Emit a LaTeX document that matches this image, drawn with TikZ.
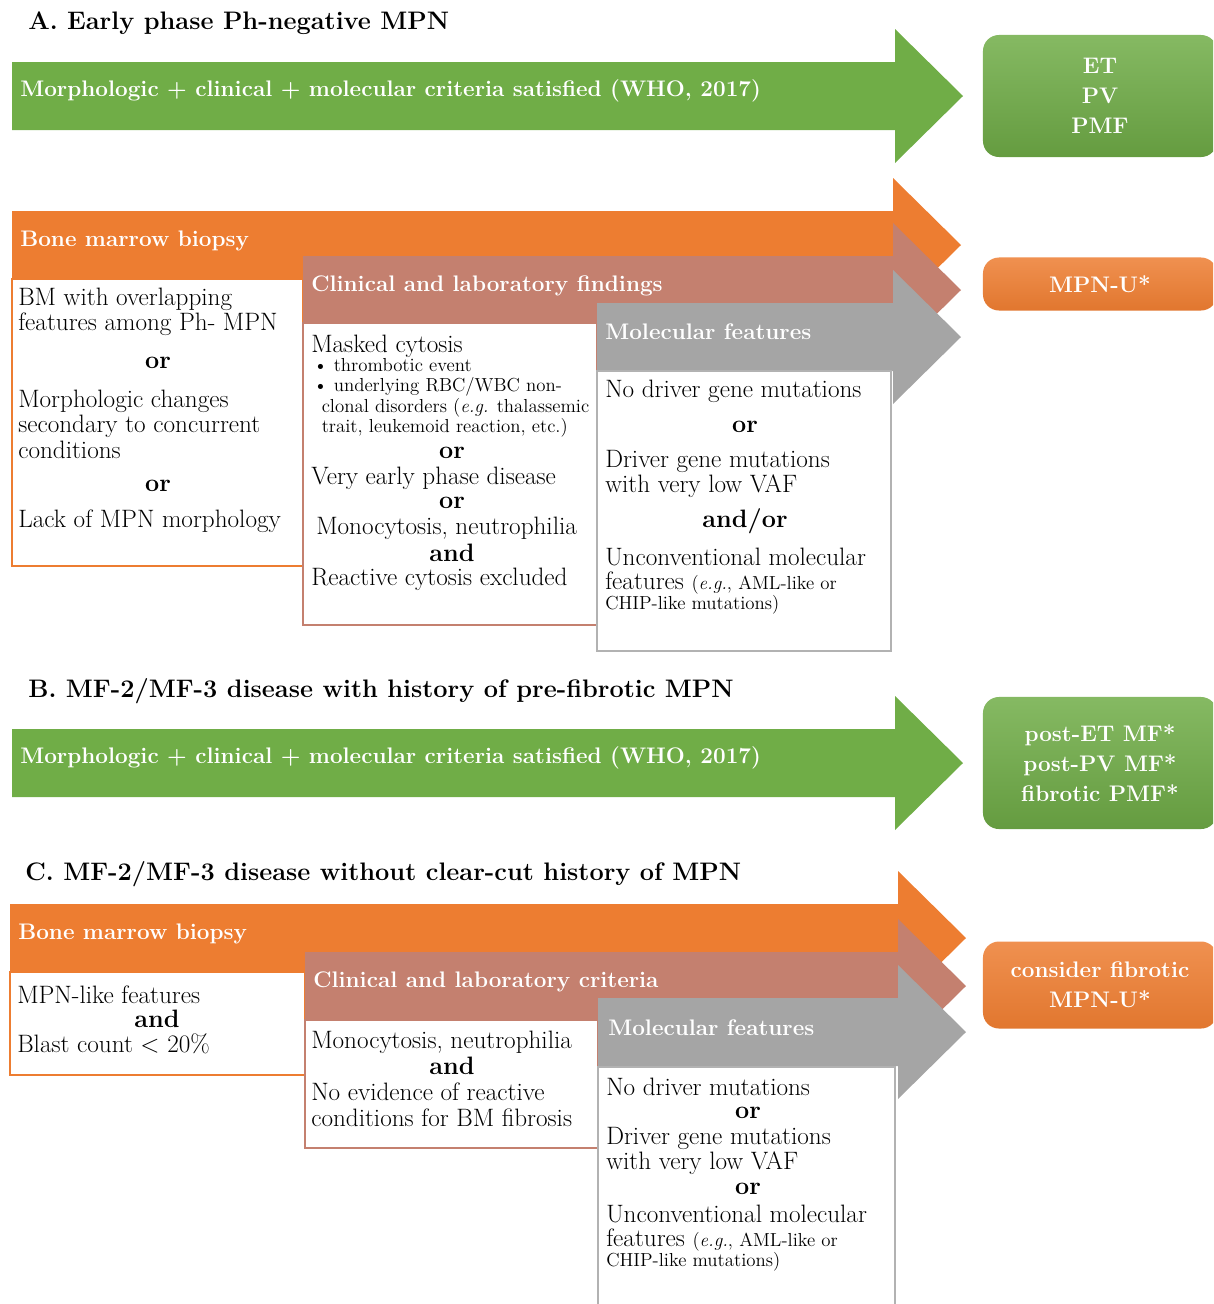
\documentclass[tikz,border=0pt]{standalone}
\usepackage{amsmath}
\usepackage{amssymb}

\definecolor{mpngreen}{HTML}{70AD47}
\definecolor{mpnorange}{HTML}{ED7D31}
\definecolor{mpnrose}{HTML}{C4806F}
\definecolor{mpngray}{HTML}{A5A5A5}

\newcommand{\blockarrow}[4]{%
  \fill[#1] (#2,#4-34) -- (#3,#4-34) -- (#3,#4-67) -- (#3+68,#4) -- (#3,#4+67) -- (#3,#4+34) -- (#2,#4+34) -- cycle;}
\newcommand{\smallsize}{\fontsize{13.4}{14.5}\selectfont}

\tikzset{
  ttl/.style={font=\fontsize{18}{20}\selectfont\bfseries, anchor=west, inner sep=0pt},
  hdr/.style={text=white, font=\fontsize{16}{18}\selectfont\bfseries, anchor=west, inner sep=0pt},
  txt/.style={font=\fontsize{17.9}{18.2}\selectfont, anchor=west, align=left, inner sep=0pt},
  conj/.style={font=\fontsize{17.9}{18.2}\selectfont\bfseries, inner sep=0pt},
  sml/.style={font=\smallsize, anchor=west, align=left, inner sep=0pt},
  resbox/.style={text=white, font=\fontsize{16}{21.3}\selectfont\bfseries, align=center,
    rounded corners=0.4cm, minimum width=5.85cm, inner sep=0pt},
  greenres/.style={resbox, top color=mpngreen!85!white, bottom color=mpngreen!90!black},
  orangeres/.style={resbox, top color=mpnorange!85!white, bottom color=mpnorange!95!black},
  obox/.style={fill=white, draw=mpnorange, line width=1.3pt},
  rbox/.style={fill=white, draw=mpnrose, line width=1.3pt},
  gbox/.style={fill=white, draw=mpngray!85!white, line width=1.3pt}
}

\begin{document}
\begin{tikzpicture}[x=0.025cm, y=-0.025cm]
\useasboundingbox (0,0) rectangle (1213,1304);
\clip (0,0) rectangle (1213,1304);

\node[ttl] (titleA) at (28,23) {A. Early phase Ph-negative MPN};
\blockarrow{mpngreen}{12}{895}{96}
\node[hdr] (critA) at (20,91) {Morphologic + clinical + molecular criteria satisfied (WHO, 2017)};
\node[greenres, minimum height=3.05cm] (resA) at (1100,96) {ET\\PV\\PMF};

\blockarrow{mpnorange}{12}{893}{245}
\node[hdr] (bmA) at (20,241) {Bone marrow biopsy};
\draw[obox] (12,279) rectangle (303,566);
\node[txt] (a1t1) at (18,312) {BM with overlapping\\features among Ph- MPN};
\node[conj] (a1or1) at (158,363) {or};
\node[txt] (a1t2) at (18,424) {Morphologic changes\\secondary to concurrent\\conditions};
\node[conj] (a1or2) at (158,486) {or};
\node[txt] (a1t3) at (18,521) {Lack of MPN morphology};

\blockarrow{mpnrose}{303}{893}{290}
\node[hdr] (clinA) at (311,286) {Clinical and laboratory findings};
\draw[rbox] (303,323) rectangle (597,625);
\node[txt] (a2t1) at (311,346) {Masked cytosis};
\node[sml] (a2bul) at (313,398) {\textbullet\ thrombotic event\\\textbullet\ underlying RBC/WBC non-\\\hspace*{0.45em}clonal disorders (\textit{e.g.} thalassemic\\\hspace*{0.45em}trait, leukemoid reaction, etc.)};
\node[conj] (a2or1) at (452,453) {or};
\node[txt] (a2t2) at (311,478) {Very early phase disease};
\node[conj] (a2or2) at (452,503) {or};
\node[txt] (a2t3) at (316,528) {Monocytosis, neutrophilia};
\node[conj] (a2and) at (452,553) {and};
\node[txt] (a2t4) at (311,579) {Reactive cytosis excluded};

\blockarrow{mpngray}{597}{893}{337}
\node[hdr] (molA) at (605,332) {Molecular features};
\draw[gbox] (597,371) rectangle (891,651);
\node[txt] (a3t1) at (605,391) {No driver gene mutations};
\node[conj] (a3or) at (745,427) {or};
\node[txt] (a3t2) at (605,474) {Driver gene mutations\\with very low VAF};
\node[conj] (a3andor) at (745,521) {and/or};
\node[txt] (a3t3) at (605,557) {Unconventional molecular};
\node[txt] (a3t4) at (605,583) {features {\smallsize(\textit{e.g.},\ AML-like or}};
\node[sml] (a3t5) at (605,605) {CHIP-like mutations)};

\node[orangeres, minimum height=1.325cm] (resAU) at (1100,284) {MPN-U*};

\node[ttl] (titleB) at (28,691) {B. MF-2/MF-3 disease with history of pre-fibrotic MPN};
\blockarrow{mpngreen}{12}{895}{763}
\node[hdr] (critB) at (20,758) {Morphologic + clinical + molecular criteria satisfied (WHO, 2017)};
\node[greenres, minimum height=3.3cm] (resB) at (1100,763) {post-ET MF*\\post-PV MF*\\fibrotic PMF*};

\node[ttl] (titleC) at (25,874) {C. MF-2/MF-3 disease without clear-cut history of MPN};
\blockarrow{mpnorange}{10}{898}{938}
\node[hdr] (bmC) at (18,934) {Bone marrow biopsy};
\draw[obox] (10,972) rectangle (305,1075);
\node[txt] (c1t1) at (17,995) {MPN-like features};
\node[conj] (c1and) at (157,1019) {and};
\node[txt] (c1t2) at (17,1044) {Blast count \textless\ 20\%};

\blockarrow{mpnrose}{305}{898}{986}
\node[hdr] (clinC) at (313,982) {Clinical and laboratory criteria};
\draw[rbox] (305,1020) rectangle (598,1148);
\node[txt] (c2t1) at (311,1042) {Monocytosis, neutrophilia};
\node[conj] (c2and) at (452,1066) {and};
\node[txt] (c2t2) at (311,1105) {No evidence of reactive\\conditions for BM fibrosis};

\blockarrow{mpngray}{598}{898}{1032}
\node[hdr] (molC) at (608,1028) {Molecular features};
\draw[gbox] (598,1067) rectangle (895,1320);
\node[txt] (c3t1) at (606,1087) {No driver mutations};
\node[conj] (c3or1) at (748,1113) {or};
\node[txt] (c3t2) at (606,1151) {Driver gene mutations\\with very low VAF};
\node[conj] (c3or2) at (748,1189) {or};
\node[txt] (c3t3) at (606,1214) {Unconventional molecular};
\node[txt] (c3t4) at (606,1240) {features {\smallsize(\textit{e.g.},\ AML-like or}};
\node[sml] (c3t5) at (606,1262) {CHIP-like mutations)};

\node[orangeres, minimum height=2.175cm] (resC) at (1100,985) {consider fibrotic\\MPN-U*};
\end{tikzpicture}
\end{document}
